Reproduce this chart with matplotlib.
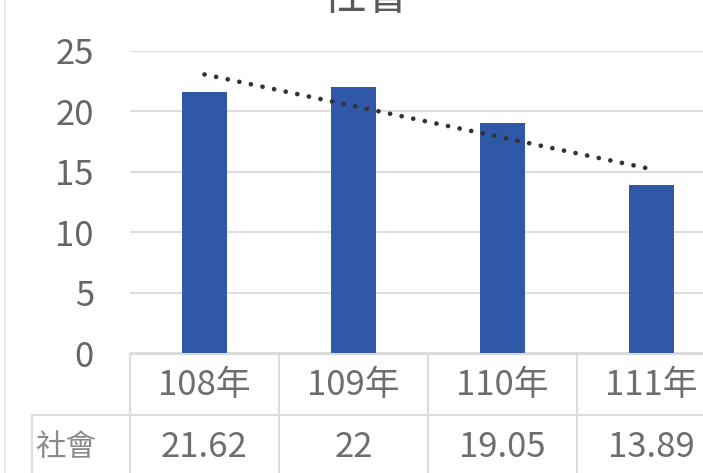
import numpy as np
import matplotlib
matplotlib.use("Agg")
import matplotlib.pyplot as plt
import matplotlib.transforms as mtransforms
from matplotlib.lines import Line2D

plt.rcParams['font.family'] = ['Noto Sans CJK TC', 'DejaVu Sans']

years = ["108年", "109年", "110年", "111年"]
social = [21.62, 22, 19.05, 13.89]
value_labels = ["21.62", "22", "19.05", "13.89"]
row_name = "社會"
title = "社會"
yticks = [0, 5, 10, 15, 20, 25]

W, H = 703, 473
fig = plt.figure(figsize=(W / 100, H / 100), dpi=100)

# plot area (extends past the right edge, the source is cropped)
ax = fig.add_axes([130 / W, 1 - 353 / H, 596 / W, 302 / H])
x = np.arange(len(years))
ax.bar(x, social, width=0.30, color="#2F58A8", zorder=3)

# linear trendline as in Excel
k, b = np.polyfit(x, social, 1)
ax.plot(x, k * x + b, color="#333333", lw=3.4,
        linestyle=(0, (0.01, 2.5)), dash_capstyle="round", zorder=4)

ax.set_xlim(-0.5, 3.5)
ax.set_ylim(0, 25)
ax.set_yticks(yticks)
ax.set_yticklabels([str(t) for t in yticks])
ax.tick_params(axis="y", length=0, pad=26, labelsize=25, labelcolor="#666666")
ax.set_xticks([])
ax.grid(axis="y", color="#dddddd", lw=1.5, zorder=0)
for s in ax.spines.values():
    s.set_visible(False)

# data table under the chart
tcol = "#6e6e6e"
lcol = "#dcdcdc"
bt = mtransforms.blended_transform_factory(ax.transData, fig.transFigure)
fy = lambda py: 1 - py / H
fx = lambda px: px / W

# horizontal lines
fig.add_artist(Line2D([fx(130), 1], [fy(354), fy(354)], color=lcol, lw=1.5))
fig.add_artist(Line2D([fx(32), 1], [fy(415), fy(415)], color=lcol, lw=1.5))
# vertical lines at category boundaries
for xb in np.arange(-0.5, len(years), 1.0):
    fig.add_artist(Line2D([xb, xb], [fy(354), 0], color=lcol, lw=1.5,
                          transform=bt))
fig.add_artist(Line2D([fx(32), fx(32)], [fy(415), 0], color=lcol, lw=1.5))

for i, (yr, v) in enumerate(zip(years, value_labels)):
    fig.text(i, fy(385), yr, transform=bt, ha="center", va="center",
             fontsize=25, color=tcol)
    fig.text(i, fy(447), v, transform=bt, ha="center", va="center",
             fontsize=25, color=tcol)
fig.text(fx(66), fy(447), row_name, ha="center", va="center",
         fontsize=22, color="#8a8a8a")

# chart border at far left and the cropped title
fig.add_artist(Line2D([fx(5), fx(5)], [0, 1], color="#e6e6e6", lw=1.2))
fig.text(fx(366), fy(19), title, ha="center", va="bottom",
         fontsize=32, color="#595959")

fig.savefig("out.png", dpi=100)
